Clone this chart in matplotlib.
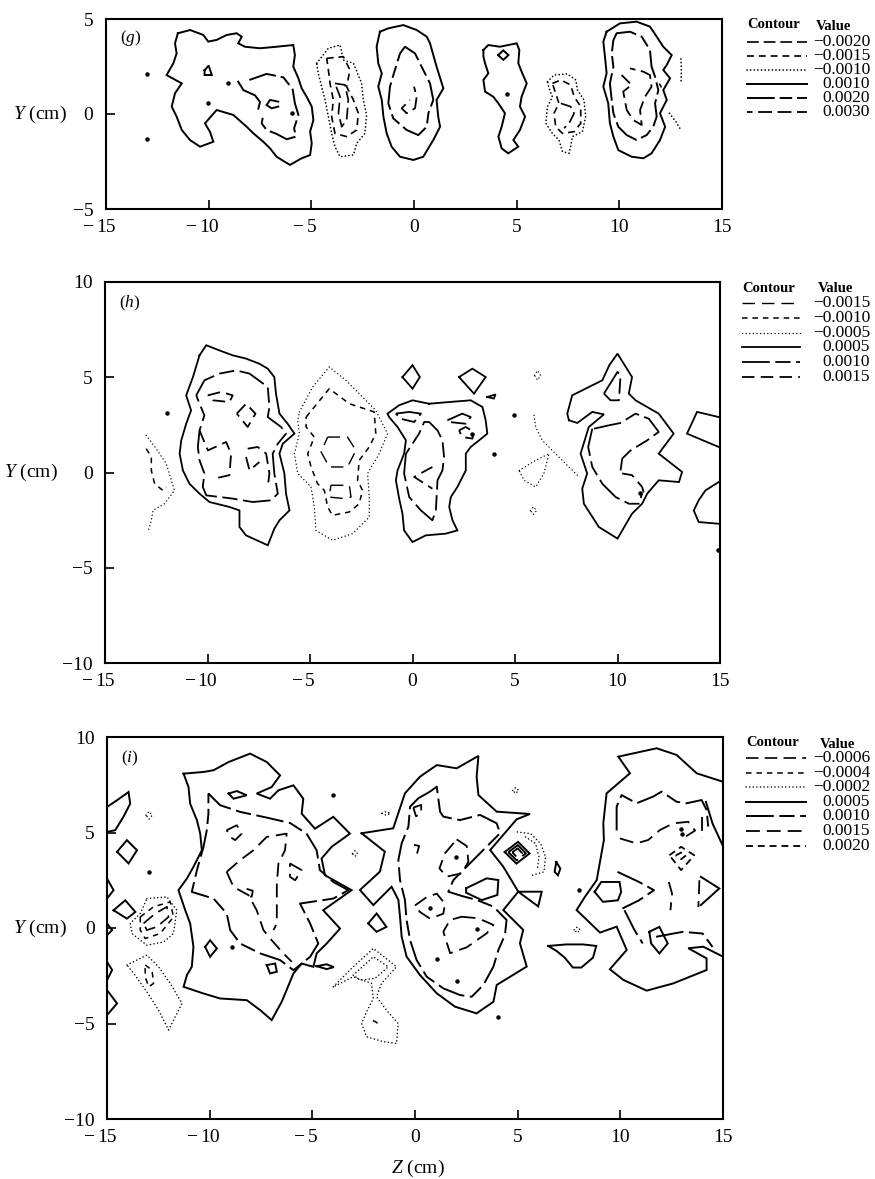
import matplotlib.pyplot as plt
import matplotlib.transforms as mtransforms
from matplotlib.lines import Line2D

plt.rcParams['font.family'] = ['Liberation Serif', 'DejaVu Serif']
plt.rcParams['mathtext.fontset'] = 'custom'
plt.rcParams['mathtext.rm'] = 'Liberation Serif'
plt.rcParams['mathtext.it'] = 'Liberation Serif:italic'
plt.rcParams['lines.scale_dashes'] = False

# ---------------- panel (g): contour lines, (Z, Y) in cm
g_levels = [-0.0020, -0.0015, -0.0010, 0.0010, 0.0020, 0.0030]

g_a_outer = [(-11.5, 4.25), (-10.9, 4.42), (-10.26, 4.16), (-10.02, 3.81), (-9.61, 3.9), (-9.12, 4.16),
             (-8.64, 4.25), (-8.39, 4.07), (-8.56, 3.72), (-8.23, 3.54), (-7.5, 3.46), (-6.69, 3.54),
             (-5.88, 3.63), (-5.8, 3.1), (-5.88, 2.49), (-5.63, 1.88), (-5.47, 1.35), (-5.23, 0.91),
             (-4.98, 0.39), (-4.9, -0.32), (-5.06, -0.93), (-4.98, -1.54), (-5.06, -2.16), (-5.47, -2.33),
             (-6.04, -2.68), (-6.44, -2.42), (-6.69, -2.25), (-7.01, -1.81), (-7.34, -1.46), (-7.82, -1.02),
             (-8.15, -0.67), (-8.8, -0.05), (-9.61, 0.21), (-10.18, -0.49), (-9.94, -0.93), (-9.77, -1.46),
             (-10.42, -1.72), (-10.91, -1.37), (-11.31, -0.84), (-11.56, -0.14), (-11.8, 0.39), (-11.64, 1.09),
             (-11.31, 1.61), (-12.05, 2.05), (-11.72, 2.67), (-11.56, 3.19), (-11.64, 3.72)]
g_a_tri = [(-10.2, 2.3), (-10.0, 2.55), (-9.85, 2.05), (-10.2, 2.05)]
g_a_arc = [(-8.56, 1.7), (-8.31, 1.26), (-7.74, 0.98), (-7.5, 0.63), (-7.58, 0.28)]
g_a_hook = [(-6.61, 0.65), (-7.01, 0.74), (-7.18, 0.47), (-6.93, 0.3), (-6.61, 0.39)]
g_a_in = [(-8.02, 1.79), (-7.18, 2.11), (-6.36, 1.93), (-5.91, 1.3), (-5.8, 0.56), (-5.63, -0.05),
          (-5.84, -0.75), (-5.75, -1.19), (-6.2, -1.33), (-6.69, -1.05), (-7.18, -0.84), (-7.42, -0.49),
          (-7.34, -0.05)]
g_b_outer = [(-4.74, 2.67), (-4.17, 3.46), (-3.6, 3.63), (-3.44, 2.84), (-2.95, 2.67), (-2.55, 1.61),
             (-2.47, 0.74), (-2.31, -0.05), (-2.39, -1.02), (-2.79, -1.54), (-2.95, -2.16), (-3.6, -2.25),
             (-3.85, -1.72), (-4.01, -1.02), (-4.17, -0.14), (-4.33, 0.74), (-4.5, 1.44), (-4.66, 2.14)]
g_b_mid = [(-4.25, 2.93), (-3.44, 3.02), (-3.12, 2.32), (-3.28, 1.44), (-2.95, 0.74), (-2.71, 0.04),
           (-2.79, -0.84), (-3.28, -1.19), (-3.85, -1.02), (-4.01, -0.14), (-3.93, 0.74), (-4.09, 1.61),
           (-4.17, 2.32)]
g_b_in = [(-3.85, 1.61), (-3.36, 1.53), (-3.2, 0.74), (-3.28, -0.32), (-3.52, -0.67), (-3.68, 0.04),
          (-3.6, 0.91)]
g_c_outer = [(-1.66, 4.33), (-1.25, 4.51), (-0.52, 4.68), (0.13, 4.42), (0.62, 4.07), (0.78, 3.72),
             (1.1, 2.49), (1.43, 1.35), (1.1, 0.74), (1.18, -0.14), (1.27, -0.67), (0.94, -1.37),
             (0.45, -2.25), (-0.03, -2.42), (-0.68, -2.25), (-1.09, -1.72), (-1.33, -1.02), (-1.49, -0.14),
             (-1.57, 0.74), (-1.74, 1.44), (-1.57, 2.14), (-1.74, 2.67), (-1.82, 3.54)]
g_c_mid = [(-0.68, 3.19), (-0.44, 3.54), (0.05, 3.19), (0.37, 2.49), (0.78, 1.61), (0.94, 0.74),
           (0.7, 0.04), (0.62, -0.67), (0.21, -1.11), (-0.36, -0.84), (-1.01, -0.23), (-1.25, 0.56),
           (-1.17, 1.44), (-0.93, 2.32)]
g_c_in = [(0.0, 1.44), (0.13, 0.91), (0.05, 0.3), (-0.36, 0.04), (-0.6, 0.3), (-0.2, 0.74)]
g_d_outer = [(3.38, 3.37), (3.62, 3.63), (4.19, 3.54), (4.59, 3.63), (5.0, 3.72), (5.13, 3.37),
             (5.08, 2.67), (5.24, 2.23), (5.49, 1.61), (5.24, 0.91), (5.16, 0.39), (5.41, -0.14),
             (5.16, -0.84), (4.84, -1.37), (5.08, -1.72), (4.59, -2.07), (4.27, -1.81), (4.11, -1.19),
             (4.27, -0.67), (4.43, 0.04), (4.11, 0.56), (3.86, 0.91), (3.46, 1.18), (3.38, 1.79),
             (3.62, 2.14), (3.46, 2.67), (3.38, 3.02)]
g_d_bow = [(4.1, 3.1), (4.35, 3.35), (4.6, 3.1), (4.35, 2.85)]
g_e_outer = [(6.5, 1.7), (6.82, 2.05), (7.47, 2.11), (7.88, 1.79), (7.96, 1.26), (8.28, 0.74),
             (8.36, -0.14), (8.2, -0.93), (7.71, -1.19), (7.63, -1.72), (7.55, -2.07), (7.23, -1.98),
             (7.06, -1.37), (6.74, -1.02), (6.42, -0.49), (6.5, 0.39), (6.74, 0.91), (6.58, 1.35)]
g_e_mid = [(6.74, 1.61), (7.15, 1.79), (7.63, 1.53), (7.8, 0.91), (8.12, 0.39), (8.12, -0.49),
           (7.8, -0.93), (7.23, -1.02), (6.9, -0.67), (6.82, 0.04), (7.06, 0.56), (6.9, 1.09)]
g_e_in = [(7.15, 0.56), (7.63, 0.39), (7.8, 0.04), (7.55, -0.49), (7.31, -0.75)]
g_f_outer = [(9.38, 4.33), (10.03, 4.77), (10.84, 4.86), (11.49, 4.6), (11.82, 4.07), (12.14, 3.54),
             (12.55, 3.1), (12.31, 2.58), (12.14, 2.32), (12.47, 1.88), (12.14, 1.26), (12.31, 0.74),
             (11.98, 0.04), (12.23, -0.67), (11.98, -1.37), (11.57, -2.07), (11.17, -2.33), (10.6, -2.25),
             (9.95, -1.9), (9.71, -1.19), (9.54, -0.49), (9.46, 0.56), (9.22, 1.44), (9.38, 2.14),
             (9.3, 3.02), (9.22, 3.81)]
g_f_mid = [(9.71, 3.89), (9.87, 4.25), (10.52, 4.33), (11.09, 4.07), (11.49, 3.37), (11.57, 2.49),
           (11.74, 1.96), (11.9, 1.26), (11.74, 0.56), (11.82, -0.14), (11.65, -0.67), (11.33, -1.11),
           (10.84, -1.37), (10.36, -1.11), (9.95, -0.67), (9.71, 0.04), (9.63, 0.74), (9.54, 1.61),
           (9.71, 2.49), (9.63, 3.19)]
g_f_in = [(10.52, 2.4), (11.17, 2.23), (11.49, 2.05), (11.57, 1.44), (11.25, 0.91), (11.01, 0.21),
          (11.09, -0.58), (10.68, -0.32), (10.36, 0.21), (10.19, 1.18), (10.6, 1.53), (10.11, 2.05)]
g_r1 = [(13.0, 2.9), (13.02, 2.3), (13.0, 1.6)]
g_r2 = [(12.44, 0.04), (12.75, -0.4), (13.0, -0.84)]
g_r3 = [(11.95, 1.6), (12.05, 1.4)]
g_dots = [(-13.0, 2.1), (-13.0, -1.33), (-9.04, 1.61), (-10.02, 0.56), (-5.96, 0.07), (4.54, 1.05)]

# ---------------- panel (h)
h_levels = [-0.0015, -0.0010, -0.0005, 0.0005, 0.0010, 0.0015]

h_a_outer = [(-10.39, 6.15), (-10.71, 5.01), (-11.04, 4.05), (-10.8, 3.26), (-11.04, 2.56), (-11.28, 1.69),
             (-11.36, 0.99), (-11.2, 0.11), (-10.88, -0.59), (-10.39, -1.11), (-9.9, -1.55), (-8.93, -1.81),
             (-8.44, -1.99), (-8.44, -2.86), (-8.12, -3.3), (-7.06, -3.82), (-6.74, -2.95), (-6.49, -2.51),
             (-6.0, -1.99), (-6.17, -1.11), (-6.25, -0.05), (-6.49, 0.99), (-6.33, 1.51), (-5.76, 2.04),
             (-6.09, 2.56), (-6.49, 3.09), (-6.66, 4.14), (-6.74, 5.01), (-7.06, 5.45), (-7.47, 5.71),
             (-8.12, 5.98), (-8.77, 6.15), (-9.42, 6.41), (-10.06, 6.68)]
h_a_mid = [(-10.55, 4.05), (-10.15, 4.84), (-9.42, 5.19), (-8.6, 5.36), (-7.95, 5.19), (-7.06, 4.49),
           (-6.98, 3.44), (-7.06, 2.91), (-6.41, 2.39), (-6.17, 2.04), (-6.57, 1.51), (-6.82, 0.99),
           (-6.74, -0.05), (-6.57, -1.11), (-6.9, -1.46), (-7.79, -1.55), (-8.77, -1.37), (-10.06, -1.2),
           (-10.23, -0.76), (-10.15, -0.05), (-10.39, 0.64), (-10.47, 1.34), (-10.39, 2.21), (-10.15, 3.0),
           (-10.39, 3.61)]
h_a_in1 = [(-9.98, 4.05), (-9.33, 4.23), (-8.77, 4.05), (-8.93, 3.7), (-9.74, 3.79)]
h_a_in2 = [(-8.57, 3.09), (-8.12, 3.61), (-7.66, 3.09), (-8.04, 2.39)]
h_a_in3 = [(-10.39, 2.21), (-9.98, 1.16), (-9.09, 1.6), (-8.85, 0.99), (-8.93, -0.14), (-9.66, -0.32)]
h_a_in4 = [(-8.04, 1.25), (-7.55, 1.34), (-7.14, 0.99), (-6.98, -0.05), (-7.06, -0.76)]
h_a_in5 = [(-8.12, 0.81), (-7.95, 0.11), (-7.47, 0.55)]
h_b_outer = [(-5.52, 3.18), (-4.87, 4.49), (-4.06, 5.54), (-3.25, 4.84), (-2.6, 4.14), (-1.79, 3.26),
             (-1.22, 2.04), (-1.62, 0.99), (-2.19, -0.05), (-2.11, -1.29), (-2.11, -2.34), (-2.92, -3.21),
             (-3.9, -3.56), (-4.71, -3.04), (-4.79, -1.81), (-4.95, -0.76), (-5.6, -0.05), (-5.76, 0.99),
             (-5.52, 2.04), (-5.6, 2.74)]
h_b_mid = [(-5.19, 2.91), (-4.06, 4.4), (-3.08, 3.61), (-1.87, 3.18), (-1.79, 2.04), (-2.11, 1.34),
           (-2.6, 0.64), (-2.68, -0.41), (-2.44, -0.94), (-2.6, -1.64), (-3.08, -2.07), (-3.9, -2.25),
           (-4.14, -1.81), (-4.3, -0.94), (-4.63, -0.59), (-4.95, 0.29), (-5.11, 0.99), (-4.79, 1.86),
           (-5.19, 2.39)]
h_b_in1 = [(-4.14, 1.86), (-3.17, 1.86), (-2.76, 1.16), (-3.17, 0.29), (-4.06, 0.29), (-4.46, 1.08)]
h_b_in2 = [(-3.98, -0.67), (-3.08, -0.67), (-3.0, -1.29), (-3.33, -1.37), (-4.06, -1.29)]
h_l_dot = [(-12.99, 1.95), (-12.5, 1.25), (-12.01, 0.46), (-11.61, -0.94), (-12.1, -1.64), (-12.66, -1.99),
           (-12.74, -2.51), (-12.9, -3.12)]
h_l_dash = [(-12.99, 1.25), (-12.74, 0.81), (-12.74, 0.11), (-12.58, -0.59), (-12.18, -0.94), (-12.01, -0.76)]
h_c_outer = [(0.81, 3.61), (1.79, 3.7), (2.84, 3.79), (3.41, 3.44), (3.57, 2.74), (3.65, 2.04), (3.25, 1.69),
             (2.84, 1.34), (2.6, 0.99), (2.6, 0.11), (2.19, -0.76), (1.87, -1.29), (1.79, -1.81), (1.95, -2.51),
             (2.19, -3.04), (1.62, -3.21), (0.65, -3.3), (0.0, -3.65), (-0.41, -3.04), (-0.49, -2.16),
             (-0.65, -1.37), (-0.81, -0.41), (-0.73, 0.11), (-0.41, 0.99), (-0.32, 1.69), (-0.73, 2.39),
             (-1.14, 2.91), (-1.22, 3.09), (-0.65, 3.53), (0.0, 3.79)]
h_c_mid = [(-0.32, 0.99), (-0.41, -0.05), (-0.16, -1.29), (0.41, -1.99), (0.97, -2.51), (1.14, -1.99),
           (1.22, -0.41), (1.46, 0.11), (1.54, 0.81), (1.46, 1.69), (1.22, 2.21), (0.81, 2.65), (0.57, 2.65),
           (0.32, 2.04), (0.0, 1.51)]
h_c_top = [(-0.81, 3.09), (-0.16, 3.18), (0.41, 3.09), (0.08, 2.65), (-0.57, 2.82)]
h_c_vee = [(0.97, 0.29), (0.08, -0.23), (0.97, -0.85)]
h_c_s1 = [(1.7, 2.74), (2.43, 3.09), (2.84, 2.91), (2.6, 2.56), (1.79, 2.65)]
h_c_s2 = [(2.27, 2.21), (2.6, 2.39), (3.0, 2.13), (2.92, 1.78), (2.43, 1.86)]
h_dia1 = [(-0.49, 5.01), (0.0, 5.63), (0.36, 5.01), (0.0, 4.4)]
h_dia2 = [(2.27, 5.01), (2.92, 5.45), (3.57, 5.01), (3.0, 4.14)]
h_tri = [(3.65, 3.96), (4.05, 4.1), (3.97, 3.88)]
h_m_loop1 = [(5.95, 5.1), (6.1, 5.35), (6.25, 5.1), (6.1, 4.85)]
h_m_line = [(5.93, 3.0), (6.01, 2.39), (6.33, 1.69), (6.9, 1.07), (7.47, 0.46), (8.04, -0.14)]
h_m_loop2 = [(5.2, 0.11), (6.01, 0.64), (6.66, 0.99), (6.41, -0.05), (6.01, -0.76), (5.44, -0.41)]
h_m_loop3 = [(5.75, -2.0), (5.9, -1.8), (6.05, -2.0), (5.9, -2.2)]
h_d_outer = [(7.63, 2.74), (8.04, 2.6), (8.77, 3.18), (9.34, 3.05), (8.6, 2.39), (8.2, 0.99), (8.52, -0.05),
             (8.28, -0.85), (8.36, -1.64), (9.09, -2.86), (10.0, -3.47), (10.71, -2.16), (11.2, -1.64),
             (11.45, -1.11), (12.01, -0.41), (13.0, -0.5), (13.15, 0.03), (12.01, 0.99), (12.74, 2.04),
             (12.01, 3.09), (10.88, 3.79), (10.55, 4.14), (10.71, 5.01), (10.0, 6.24), (9.6, 5.63),
             (9.26, 4.84), (8.44, 4.4), (7.79, 4.05), (7.55, 3.09)]
h_d_top = [(9.34, 4.14), (10.0, 5.28), (10.15, 5.1), (10.07, 3.79), (9.66, 3.79)]
h_d_m1 = [(8.85, 2.3), (9.6, 2.48), (10.15, 2.6), (10.88, 3.09), (11.53, 2.82), (12.01, 2.13), (11.45, 1.69),
          (10.64, 1.16), (10.23, 0.73), (10.15, 0.11)]
h_d_m2 = [(8.77, 2.3), (8.57, 1.34), (8.77, 0.29), (9.26, -0.59), (9.91, -1.29), (10.56, -1.64), (11.04, -1.64),
          (11.2, -1.11)]
h_d_s = [(10.23, -0.05), (10.71, -0.14), (11.2, -0.76), (11.36, -1.37)]
h_e1 = [(14.94, 2.91), (13.88, 3.18), (13.39, 2.04), (14.94, 1.34)]
h_e2 = [(14.94, -0.5), (14.29, -0.94), (13.96, -1.46), (13.72, -1.99), (13.96, -2.6), (14.94, -2.69)]
h_dots = [(-12.0, 3.1), (2.92, 2.04), (3.97, 0.99), (4.95, 3.0), (11.1, -1.05), (14.9, -4.09)]

# ---------------- panel (i)
i_levels = [-0.0006, -0.0004, -0.0002, 0.0005, 0.0010, 0.0015, 0.0020]

i_a_outer = [(-11.27, 8.08), (-10.3, 8.17), (-9.81, 8.26), (-9.08, 8.69), (-8.03, 9.13), (-7.22, 8.69),
             (-6.57, 7.99), (-6.98, 7.38), (-7.71, 7.04), (-7.06, 6.77), (-6.65, 7.21), (-5.92, 7.47),
             (-5.44, 6.77), (-5.52, 5.99), (-4.87, 5.2), (-3.98, 5.82), (-3.17, 4.94), (-4.06, 4.25),
             (-4.55, 3.64), (-4.38, 2.76), (-3.09, 1.98), (-4.47, 0.93), (-3.65, -0.03), (-4.3, -0.81),
             (-4.79, -1.33), (-4.95, -2.03), (-5.52, -1.86), (-5.92, -2.38), (-6.49, -3.86), (-6.98, -4.82),
             (-7.54, -4.3), (-8.19, -3.78), (-9.49, -3.69), (-10.3, -3.43), (-11.27, -3.08), (-11.11, -2.47),
             (-10.87, -2.03), (-10.79, -0.99), (-10.95, 0.24), (-11.19, 0.93), (-11.52, 1.98), (-11.11, 2.59),
             (-10.79, 3.2), (-10.38, 4.07), (-10.46, 4.94), (-10.62, 5.64), (-10.95, 6.51), (-11.03, 7.38)]
i_a_small = [(-9.08, 7.04), (-8.68, 7.17), (-8.19, 6.95), (-8.84, 6.77)]
i_a_mid = [(-10.06, 7.04), (-9.49, 6.43), (-8.52, 6.08), (-7.22, 5.78), (-6.09, 5.5), (-5.28, 4.94),
           (-4.79, 4.07), (-4.63, 3.03), (-3.98, 2.41), (-3.25, 1.98), (-3.98, 1.54), (-5.6, 1.28),
           (-5.11, 0.24), (-4.71, -0.81), (-5.11, -1.51), (-5.92, -2.21), (-6.57, -1.68), (-7.54, -1.33),
           (-8.52, -0.81), (-9.0, -0.11), (-9.17, 0.76), (-9.81, 1.54), (-10.87, 1.89), (-10.62, 3.03),
           (-10.3, 4.25), (-10.14, 5.12), (-10.06, 5.99)]
i_a_in1 = [(-9.17, 2.94), (-8.52, 3.55), (-7.87, 4.07), (-7.22, 4.77), (-6.25, 4.94), (-6.33, 4.07),
           (-6.65, 3.38), (-6.73, 2.33), (-6.73, 1.28), (-6.73, 0.24), (-6.89, -0.11)]
i_a_in2 = [(-9.17, 2.94), (-8.84, 2.15), (-8.11, 1.72), (-7.71, 0.93), (-7.38, -0.11), (-6.98, -0.64),
           (-6.41, -1.33), (-6.0, -1.77)]
i_a_s1 = [(-9.17, 5.12), (-8.68, 5.38), (-8.44, 4.94), (-8.76, 4.6), (-9.0, 4.77)]
i_a_s2 = [(-6.09, 3.38), (-5.52, 3.03), (-5.84, 2.5), (-6.09, 2.68)]
i_a_s3 = [(-8.2, 2.05), (-7.9, 1.95), (-7.95, 1.65), (-8.2, 1.6)]
i_a_d1 = [(-10.22, -0.99), (-9.98, -0.64), (-9.65, -1.07), (-9.98, -1.51)]
i_a_d2 = [(-7.22, -1.94), (-6.81, -1.86), (-6.73, -2.29), (-7.06, -2.38)]
i_a_tip = [(-4.8, -2.0), (-4.3, -1.9), (-3.95, -2.05), (-4.3, -2.15)]
i_l1 = [(-15.0, 6.34), (-14.51, 6.69), (-13.95, 7.12), (-13.87, 6.51), (-14.2, 5.82), (-14.6, 5.12), (-15.0, 5.03)]
i_l2 = [(-14.51, 3.99), (-14.03, 4.6), (-13.54, 4.07), (-13.95, 3.38)]
i_l3 = [(-14.68, 0.93), (-14.11, 1.45), (-13.62, 0.84), (-14.03, 0.49)]
i_l4 = [(-15.0, 2.59), (-14.68, 1.98), (-15.0, 1.54)]
i_l5 = [(-15.0, 0.24), (-14.75, -0.11), (-15.0, -0.38)]
i_l6 = [(-15.0, -1.77), (-14.75, -2.2), (-15.0, -2.73)]
i_l7 = [(-15.0, -3.25), (-14.51, -3.95), (-15.0, -4.56)]
i_n_dot1 = [(-13.06, 1.54), (-12.08, 1.63), (-11.6, 0.93), (-11.76, -0.29), (-12.24, -0.73), (-13.06, -0.9),
            (-13.78, -0.29), (-13.87, 0.24), (-13.38, 0.76)]
i_n_dash1 = [(-13.38, 0.58), (-12.73, 1.11), (-11.92, 1.37), (-11.76, 0.58), (-12.41, -0.29), (-13.14, -0.55),
             (-13.38, -0.11)]
i_n_long1 = [(-13.22, 0.24), (-12.65, 0.76), (-12.08, 1.11), (-12.0, 0.58), (-12.57, 0.06), (-13.06, -0.11)]
i_n_dot2 = [(-14.03, -1.94), (-13.06, -1.42), (-12.49, -2.03), (-11.92, -2.9), (-11.35, -3.95), (-12.0, -5.34),
            (-12.49, -4.3), (-13.06, -3.34), (-13.7, -2.38)]
i_n_dash2 = [(-13.14, -1.94), (-12.81, -2.2), (-12.73, -2.9), (-12.97, -3.08), (-13.14, -2.55)]
i_n_dot3 = [(-13.1, 5.9), (-12.95, 6.1), (-12.8, 5.9), (-12.95, 5.7)]
i_n_dot4 = [(-3.05, 3.9), (-2.92, 4.05), (-2.8, 3.9), (-2.92, 3.75)]
i_n_dot5 = [(-1.6, 6.0), (-1.4, 6.1), (-1.2, 6.0), (-1.4, 5.9)]
i_n_dot6 = [(-3.98, -3.08), (-3.01, -2.03), (-2.03, -1.07), (-0.9, -2.03), (-1.63, -2.9), (-1.87, -3.6),
            (-1.39, -4.3), (-0.82, -5.0), (-0.9, -6.04), (-1.55, -5.95), (-2.36, -5.69), (-2.6, -5.0),
            (-2.36, -4.39), (-2.03, -3.69), (-2.12, -2.9), (-3.01, -2.55)]
i_n_dot7 = [(-3.01, -2.47), (-2.03, -1.51), (-1.3, -2.03), (-1.95, -2.64), (-2.68, -2.73)]
i_n_dash3 = [(-2.05, -4.85), (-1.85, -4.95), (-1.9, -5.15)]
i_dia = [(-2.28, 0.24), (-1.87, 0.76), (-1.39, 0.06), (-1.87, -0.2)]
i_b_outer = [(-2.6, 4.96), (-1.06, 5.22), (-0.49, 7.05), (0.24, 7.92), (1.06, 8.53), (2.03, 8.36), (3.09, 9.01),
             (3.0, 7.92), (3.09, 6.96), (3.98, 6.09), (5.6, 5.97), (4.95, 5.69), (3.66, 4.08), (4.3, 3.21),
             (5.03, 1.9), (4.3, 0.94), (5.27, -0.1), (5.11, -0.8), (5.44, -2.02), (3.98, -2.98), (3.82, -3.86),
             (3.0, -4.47), (1.95, -4.12), (1.06, -3.42), (0.24, -2.46), (-0.41, -1.5), (-0.65, -0.45),
             (-0.73, 0.59), (-0.81, 1.47), (-1.14, 2.16), (-2.03, 1.2), (-2.68, 1.99), (-1.71, 2.95),
             (-1.47, 4.0)]
i_b_mid = [(0.73, 7.14), (0.16, 6.79), (-0.24, 6.35), (-0.32, 5.31), (-0.65, 4.43), (-0.81, 3.56), (-0.73, 2.51),
           (-0.49, 1.47), (-0.41, 0.42), (-0.24, -0.63), (0.08, -1.68), (0.57, -2.55), (1.38, -3.16),
           (2.19, -3.51), (2.76, -3.6), (3.33, -2.98), (3.82, -2.02), (4.06, -1.15), (4.38, -0.37), (4.46, 0.42),
           (3.82, 1.12), (3.0, 1.47), (2.27, 1.68), (1.62, 1.9), (1.87, 2.51), (2.68, 3.39), (3.49, 4.26),
           (4.14, 4.96), (3.98, 5.48), (3.17, 5.92), (2.19, 5.65), (1.38, 5.83), (1.22, 6.09), (1.06, 7.4)]
i_b_s1 = [(2.03, 4.64), (2.52, 4.29), (2.6, 3.47), (2.27, 2.86), (1.54, 2.69), (1.19, 3.12), (1.46, 3.91)]
i_b_pent = [(2.49, 2.08), (3.49, 2.6), (4.06, 2.51), (4.01, 1.73), (3.25, 1.46), (2.49, 1.85)]
i_b_s2 = [(0.0, 1.18), (0.57, 1.62), (1.06, 1.8), (1.46, 1.27), (1.38, 0.75), (0.73, 0.49), (0.24, 0.84)]
i_b_s3 = [(2.27, 0.59), (3.08, 0.51), (3.82, 0.16), (3.49, -0.28), (2.52, -1.01), (1.71, -1.32), (1.38, -0.19),
          (1.71, 0.42)]
i_b_s4 = [(-0.08, 6.3), (0.3, 6.45), (0.3, 6.0), (0.05, 5.85)]
i_b_s5 = [(-0.05, 4.35), (0.2, 4.3), (0.1, 3.9)]
i_b_tri = [(5.03, 1.9), (6.17, 1.9), (6.0, 1.13)]
i_sq1 = [(4.37, 3.98), (5.02, 4.51), (5.58, 3.9), (4.94, 3.37)]
i_sq2 = [(4.55, 3.97), (5.01, 4.34), (5.4, 3.91), (4.95, 3.54)]
i_sq3 = [(4.74, 3.96), (5.0, 4.17), (5.22, 3.92), (4.96, 3.71)]
i_m_dot1 = [(4.98, 5.03), (5.63, 4.94), (6.12, 4.42), (6.36, 3.72), (6.28, 2.94), (5.71, 2.76)]
i_m_dot2 = [(5.38, 4.77), (5.87, 4.42), (6.04, 3.72), (5.95, 3.03)]
i_m_dot3 = [(4.75, 7.2), (4.9, 7.35), (5.05, 7.2), (4.9, 7.05)]
i_m_dot4 = [(7.75, -0.1), (7.9, 0.05), (8.05, -0.1), (7.9, -0.25)]
i_tear = [(6.88, 3.46), (7.08, 3.11), (6.96, 2.76), (6.8, 2.94)]
i_s_loop = [(6.48, -0.94), (7.37, -0.86), (8.18, -0.86), (8.83, -0.94), (8.67, -1.55), (8.1, -2.07),
            (7.69, -2.07), (7.29, -1.55), (6.88, -1.19)]
i_c_outer = [(14.99, 7.66), (13.72, 8.1), (12.74, 9.06), (11.77, 9.41), (9.9, 8.97), (10.47, 8.1), (9.33, 7.05),
             (9.17, 5.48), (9.2, 4.61), (8.85, 2.51), (8.28, 1.64), (7.87, 0.94), (9.01, -0.24), (9.82, 0.07),
             (10.31, -1.15), (9.49, -2.16), (10.15, -2.72), (11.28, -3.28), (12.58, -2.9), (14.2, -2.2),
             (14.2, -1.59), (13.31, -1.06), (14.04, -0.98), (15.0, -1.5)]
i_c_l1 = [(9.82, 5.11), (9.82, 6.35), (10.06, 6.96), (10.79, 6.53), (11.6, 6.88), (12.01, 7.14), (12.74, 6.61),
          (13.23, 6.53), (13.96, 6.7), (14.2, 6.18), (14.28, 5.31)]
i_c_l2 = [(9.98, 4.69), (10.79, 4.43), (11.36, 4.61), (11.93, 5.13), (12.58, 5.48), (13.31, 5.56), (13.64, 5.1),
          (13.2, 4.8)]
i_c_s2 = [(12.39, 3.81), (12.96, 4.25), (13.6, 3.81), (12.96, 3.03)]
i_c_s3 = [(12.7, 3.8), (12.96, 3.95), (13.2, 3.8), (12.96, 3.6)]
i_c_l3 = [(9.86, 2.94), (10.91, 2.41), (11.64, 1.98), (10.91, 1.45), (10.1, 1.02)]
i_c_loop = [(8.75, 1.89), (9.07, 2.41), (9.96, 2.41), (10.04, 1.89), (9.88, 1.45), (9.15, 1.37)]
i_c_l4 = [(12.36, 2.41), (12.52, 1.8), (12.44, 0.93)]
i_c_vee = [(13.92, 2.68), (14.82, 2.07), (13.92, 1.2)]
i_c_bar = [(13.85, 2.5), (13.8, 1.1)]
i_c_l5 = [(10.2, 0.93), (10.69, -0.11), (11.09, -0.81)]
i_c_loop2 = [(11.41, -0.2), (11.9, 0.06), (12.31, -0.81), (11.9, -1.33), (11.5, -0.81)]
i_c_l6 = [(11.74, -0.46), (13.04, -0.2), (14.01, -0.29), (14.49, -0.99)]
i_c_l7 = [(14.17, 6.6), (14.49, 5.47), (14.98, 4.33)]
i_c_l8 = [(14.0, 5.8), (14.0, 4.7)]
i_dots = [(-12.97, 2.94), (-3.99, 6.96), (-8.92, -1.02), (0.73, 1.06), (2.0, 3.73), (3.0, -0.07),
          (1.06, -1.62), (2.03, -2.76), (4.06, -4.68), (7.97, 1.98), (13.0, 4.9), (12.95, 5.2)]

# (level, line, closed)
g_lines = [(0.0010, g_a_outer, True), (0.0010, g_a_tri, True), (0.0010, g_a_arc, False),
           (0.0010, g_a_hook, False), (0.0020, g_a_in, False),
           (-0.0010, g_b_outer, True), (-0.0015, g_b_mid, True), (-0.0020, g_b_in, True),
           (0.0010, g_c_outer, True), (0.0020, g_c_mid, True), (0.0030, g_c_in, False),
           (0.0010, g_d_outer, True), (0.0010, g_d_bow, True),
           (-0.0010, g_e_outer, True), (-0.0015, g_e_mid, True), (-0.0020, g_e_in, False),
           (0.0010, g_f_outer, True), (0.0020, g_f_mid, True), (0.0030, g_f_in, False),
           (-0.0010, g_r1, False), (-0.0010, g_r2, False), (-0.0015, g_r3, False)]
h_lines = [(0.0005, h_a_outer, True), (0.0010, h_a_mid, True), (0.0015, h_a_in1, True),
           (0.0015, h_a_in2, True), (0.0015, h_a_in3, False), (0.0015, h_a_in4, False),
           (0.0015, h_a_in5, False),
           (-0.0005, h_b_outer, True), (-0.0010, h_b_mid, True), (-0.0015, h_b_in1, True),
           (-0.0015, h_b_in2, True), (-0.0005, h_l_dot, False), (-0.0010, h_l_dash, False),
           (0.0005, h_c_outer, True), (0.0010, h_c_mid, True), (0.0010, h_c_top, True),
           (0.0015, h_c_vee, False), (0.0010, h_c_s1, True), (0.0015, h_c_s2, True),
           (0.0005, h_dia1, True), (0.0005, h_dia2, True), (0.0005, h_tri, True),
           (-0.0005, h_m_loop1, True), (-0.0005, h_m_line, False), (-0.0005, h_m_loop2, True),
           (-0.0005, h_m_loop3, True),
           (0.0005, h_d_outer, True), (0.0010, h_d_top, True), (0.0010, h_d_m1, False),
           (0.0010, h_d_m2, False), (0.0015, h_d_s, False),
           (0.0005, h_e1, False), (0.0005, h_e2, False)]
i_lines = [(0.0005, i_a_outer, True), (0.0005, i_a_small, True), (0.0010, i_a_mid, True),
           (0.0015, i_a_in1, False), (0.0015, i_a_in2, False), (0.0015, i_a_s1, True),
           (0.0015, i_a_s2, True), (0.0015, i_a_s3, False), (0.0005, i_a_d1, True),
           (0.0005, i_a_d2, True), (0.0005, i_a_tip, True),
           (0.0005, i_l1, False), (0.0005, i_l2, True), (0.0005, i_l3, True), (0.0005, i_l4, False),
           (0.0005, i_l5, False), (0.0005, i_l6, False), (0.0005, i_l7, False),
           (-0.0002, i_n_dot1, True), (-0.0004, i_n_dash1, True), (-0.0006, i_n_long1, True),
           (-0.0002, i_n_dot2, True), (-0.0004, i_n_dash2, True), (-0.0002, i_n_dot3, True),
           (-0.0002, i_n_dot4, True), (-0.0002, i_n_dot5, True), (-0.0002, i_n_dot6, True),
           (-0.0002, i_n_dot7, True), (-0.0004, i_n_dash3, False), (0.0005, i_dia, True),
           (0.0005, i_b_outer, True), (0.0010, i_b_mid, True), (0.0015, i_b_s1, True),
           (0.0005, i_b_pent, True), (0.0015, i_b_s2, True), (0.0015, i_b_s3, True),
           (0.0015, i_b_s4, True), (0.0015, i_b_s5, False), (0.0005, i_b_tri, True),
           (0.0005, i_sq1, True), (0.0010, i_sq2, True), (0.0015, i_sq3, True),
           (-0.0002, i_m_dot1, False), (-0.0002, i_m_dot2, False), (-0.0002, i_m_dot3, True),
           (-0.0002, i_m_dot4, True), (0.0005, i_tear, True), (0.0005, i_s_loop, True),
           (0.0005, i_c_outer, False), (0.0010, i_c_l1, False), (0.0015, i_c_l2, False),
           (0.0020, i_c_s2, True), (0.0020, i_c_s3, True),
           (0.0010, i_c_l3, False), (0.0005, i_c_loop, True), (0.0015, i_c_l4, False),
           (0.0005, i_c_vee, False), (0.0015, i_c_bar, False), (0.0010, i_c_l5, False),
           (0.0005, i_c_loop2, True), (0.0010, i_c_l6, False), (0.0005, i_c_l7, False),
           (0.0015, i_c_l8, False)]

DOT = (0, (0.1, 2.5))
g_style = {-0.0020: ((0, (8.5, 3.5)), 1.2, 'butt'), -0.0015: ((0, (5, 3.5)), 1.2, 'butt'),
           -0.0010: (DOT, 1.2, 'round'), 0.0010: ('-', 1.4, 'butt'),
           0.0020: ((0, (20, 3.5, 9, 3.5)), 1.4, 'butt'), 0.0030: ((6, (10, 4)), 1.3, 'butt')}
h_style = {-0.0015: ((0, (9, 5)), 1.0, 'butt'), -0.0010: ((0, (4, 3.5)), 1.1, 'butt'),
           -0.0005: (DOT, 1.0, 'round'), 0.0005: ('-', 1.3, 'butt'),
           0.0010: ((0, (20, 4, 11, 4)), 1.3, 'butt'), 0.0015: ((0, (9, 4.5)), 1.3, 'butt')}
i_style = {-0.0006: ((0, (9, 4.5)), 1.2, 'butt'), -0.0004: ((0, (4, 3.5)), 1.1, 'butt'),
           -0.0002: (DOT, 1.1, 'round'), 0.0005: ('-', 1.4, 'butt'),
           0.0010: ((0, (20, 4, 11, 4)), 1.4, 'butt'), 0.0015: ((0, (10, 5)), 1.3, 'butt'),
           0.0020: ((0, (5, 3.5)), 1.3, 'butt')}

XTICKS = [-15, -10, -5, 0, 5, 10, 15]
W, H = 875, 1179
FS = 14


def fmt(v):
    return ('\u2212' if v < 0 else '') + f'{abs(v):.4f}'


def draw(ax, lines, dots, style):
    for lev, pts, closed in lines:
        z = [p[0] for p in pts]
        y = [p[1] for p in pts]
        if closed:
            z.append(z[0])
            y.append(y[0])
        ls, lw, cap = style[lev]
        ax.plot(z, y, color='black', linestyle=ls, linewidth=lw, dash_capstyle=cap,
                solid_joinstyle='miter')
    ax.plot([d[0] for d in dots], [d[1] for d in dots], 'o', color='black', ms=2.2, linestyle='none')


def setup(ax, ylim, yticks, ylab_x, tag, tag_y):
    xpad = 7.5
    ax.set_xlim(-15, 15)
    ax.set_ylim(*ylim)
    ax.set_xticks(XTICKS)
    ax.set_xticklabels([str(abs(v)) for v in XTICKS])
    ax.set_yticks(yticks)
    ax.set_yticklabels([('\u2212' if v < 0 else '') + str(abs(v)) for v in yticks])
    ax.tick_params(direction='in', length=6.5, width=1.2, labelsize=FS, top=False, right=False)
    ax.tick_params(axis='x', pad=xpad)
    ax.tick_params(axis='y', pad=9)
    for s in ax.spines.values():
        s.set_linewidth(1.5)
    tr = mtransforms.blended_transform_factory(ax.transData, ax.transAxes)
    for v in XTICKS:
        if v < 0:
            w = len(str(abs(v))) * 0.5 * FS
            ax.annotate('\u2212', xy=(v, 0), xycoords=tr, xytext=(-w / 2 - 1.5, -xpad),
                        textcoords='offset points', ha='right', va='top', fontsize=FS,
                        annotation_clip=False)
    ty = mtransforms.blended_transform_factory(ax.transAxes, ax.transData)
    ax.text(ylab_x, 0, r'$Y$ (cm)', transform=ty, ha='right', va='center', fontsize=FS)
    ax.text(0.022, tag_y, tag, transform=ax.transAxes, ha='left', va='center', fontsize=12.5)


def legend(fig, levels, style, x0, x1, xhead2, yhead, y0, dy):
    fig.text(x0 / W, 1 - yhead / H, 'Contour', ha='left', va='center', fontsize=10.5, fontweight='bold')
    fig.text(xhead2 / W, 1 - (yhead + 1) / H, 'Value', ha='left', va='center', fontsize=10.5,
             fontweight='bold')
    for k, lev in enumerate(levels):
        yy = 1 - (y0 + k * dy) / H
        ls, lw, cap = style[lev]
        fig.add_artist(Line2D([x0 / W, x1 / W], [yy, yy], transform=fig.transFigure, color='black',
                              linestyle=ls, linewidth=lw, dash_capstyle=cap))
        fig.text(870 / W, yy, fmt(lev), ha='right', va='center', fontsize=12.5)


fig = plt.figure(figsize=(8.75, 11.79), dpi=100)

ax_g = fig.add_axes([106 / W, 1 - 209 / H, 616 / W, 190 / H])
draw(ax_g, g_lines, g_dots, g_style)
setup(ax_g, (-5, 5), [-5, 0, 5], -0.063, r'$(g)$', 0.9)
legend(fig, g_levels, g_style, 747, 807, 816, 25, 42, 14)

ax_h = fig.add_axes([105 / W, 1 - 663 / H, 615 / W, 381 / H])
draw(ax_h, h_lines, h_dots, h_style)
setup(ax_h, (-10, 10), [-10, -5, 0, 5, 10], -0.076, r'$(h)$', 0.945)
legend(fig, h_levels, h_style, 742, 800, 818, 288, 303, 14.8)

ax_i = fig.add_axes([107 / W, 1 - 1119 / H, 616 / W, 382 / H])
draw(ax_i, i_lines, i_dots, i_style)
setup(ax_i, (-10, 10), [-10, -5, 0, 5, 10], -0.065, r'$(i)$', 0.945)
legend(fig, i_levels, i_style, 746, 806, 820, 743, 758, 14.6)

fig.text(418 / W, 1 - 1168 / H, r'$Z$ (cm)', ha='center', va='center', fontsize=FS)

fig.savefig('out.png', dpi=100)
